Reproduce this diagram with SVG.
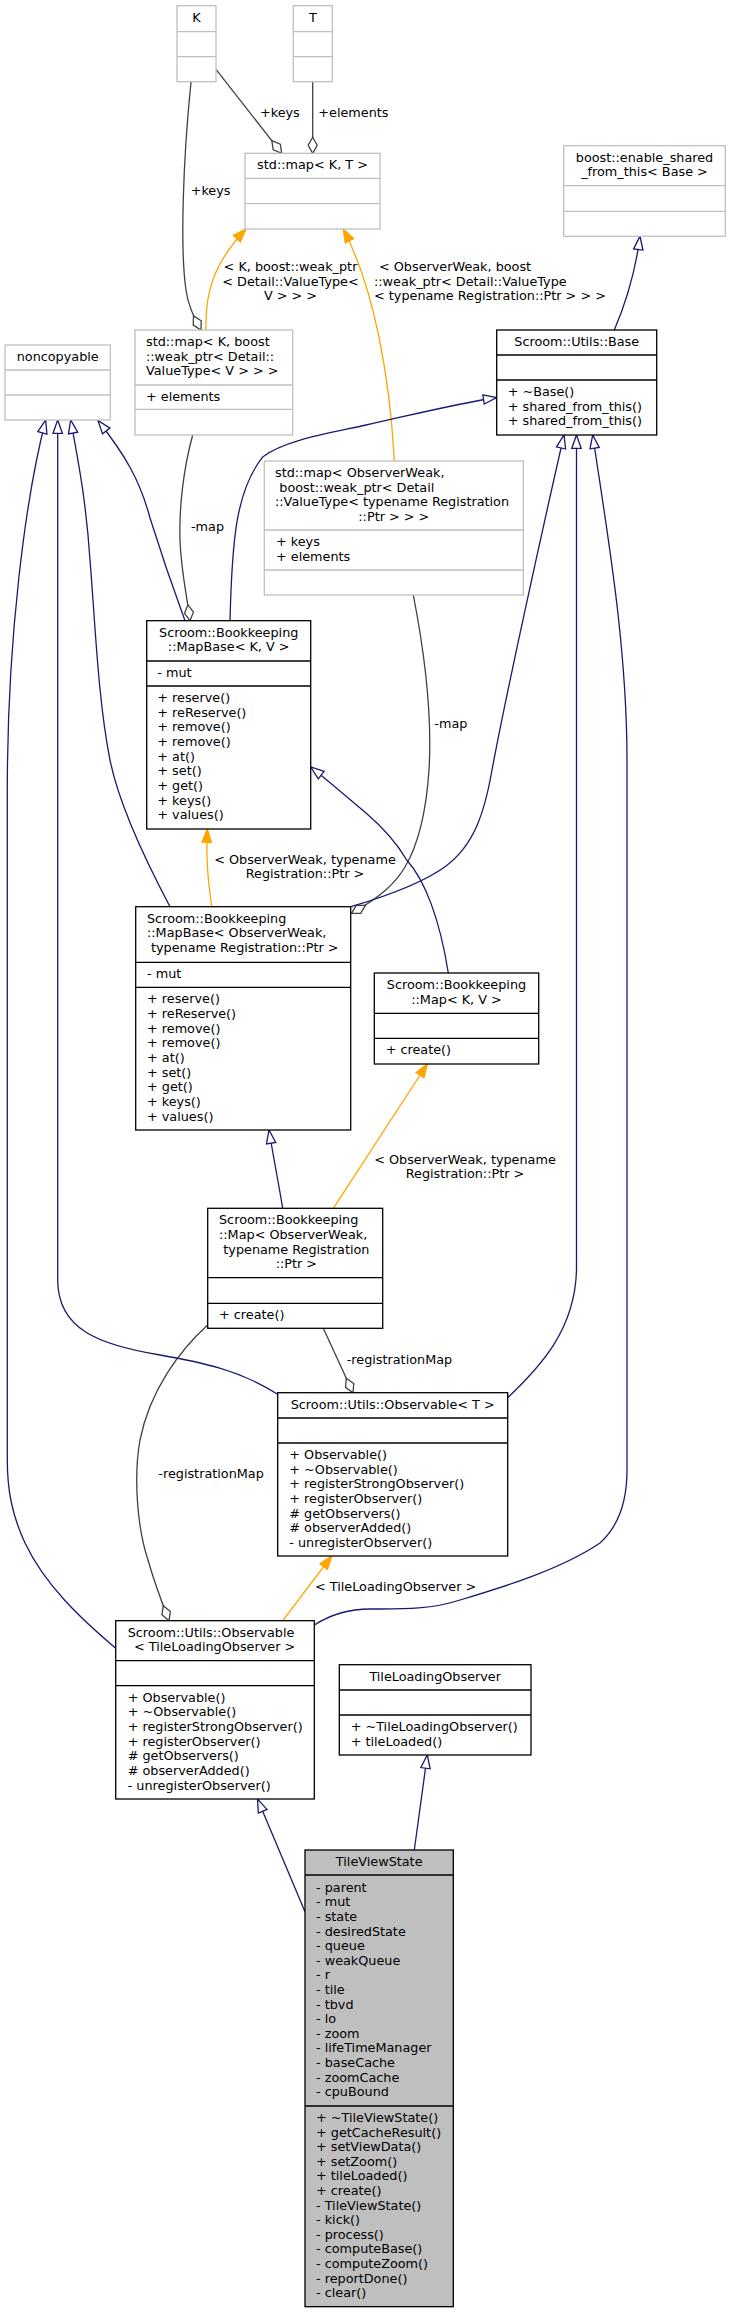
<svg xmlns="http://www.w3.org/2000/svg" width="731" height="2313" viewBox="0 0 731 2313">
<style>
text{font-family:"DejaVu Sans","Liberation Sans",sans-serif;font-size:12.8px;fill:#000}
.c{text-anchor:middle}
.gb{fill:#fff;stroke:#bfbfbf;stroke-width:1.3}
.gl{stroke:#bfbfbf;stroke-width:1.3}
.bb{fill:#fff;stroke:#000;stroke-width:1.3}
.bl{stroke:#000;stroke-width:1.3}
.sel{fill:#bfbfbf;stroke:#000;stroke-width:1.3}
.gen{fill:none;stroke:#191970;stroke-width:1.3;marker-end:url(#mgen)}
.tpl{fill:none;stroke:#ffa500;stroke-width:1.3;marker-end:url(#mtpl)}
.agg{fill:none;stroke:#404040;stroke-width:1.3;marker-end:url(#magg)}
</style>
<defs>
<marker id="mgen" markerUnits="userSpaceOnUse" markerWidth="16" markerHeight="12" refX="13.3" refY="5" orient="auto" style="overflow:visible"><path d="M0,0.3 L13.3,5 L0,9.7 Z" fill="#fff" stroke="#191970" stroke-width="1.3"/></marker>
<marker id="mtpl" markerUnits="userSpaceOnUse" markerWidth="16" markerHeight="12" refX="13.3" refY="5" orient="auto" style="overflow:visible"><path d="M0,0.3 L13.3,5 L0,9.7 Z" fill="#ffa500" stroke="#ffa500" stroke-width="1.3"/></marker>
<marker id="magg" markerUnits="userSpaceOnUse" markerWidth="18" markerHeight="12" refX="16" refY="5" orient="auto" style="overflow:visible"><path d="M0,5 L8,0.5 L16,5 L8,9.5 Z" fill="#fff" stroke="#404040" stroke-width="1.3"/></marker>
</defs>
<rect x="0" y="0" width="731" height="2313" fill="#fff"/>

<g id="connectors">
<!-- aggregation -->
<path class="agg" d="M216,69.3 L281.7,153.3"/>
<text x="260" y="117">+keys</text>
<path class="agg" d="M312.7,81.7 L312.7,153.3"/>
<text x="318.3" y="117">+elements</text>
<path class="agg" d="M191,82 C183,160 180,250 186,290 C188,305 193,315 201,330"/>
<text x="190.7" y="195">+keys</text>
<path class="agg" d="M192.7,435 C183,470 179,510 180,540 C181,570 186,590 190,620.7"/>
<text x="191" y="530.7">-map</text>
<path class="agg" d="M413.3,595 C426,660 432,720 429,770 C426,815 418,845 405,867 C395,884 380,897 351.5,913.3"/>
<text x="434.3" y="728">-map</text>
<path class="agg" d="M323.3,1328.3 L353,1392.7"/>
<text x="346.7" y="1364">-registrationMap</text>
<path class="agg" d="M207.7,1325 C180,1350 150,1390 140,1440 C133,1480 138,1530 148,1560 C155,1585 163,1605 169,1620.7"/>
<text x="158.3" y="1478">-registrationMap</text>
<!-- template -->
<path class="tpl" d="M206,330 C205,295 212,265 246,229"/>
<text class="c" x="290.5" y="271">&lt; K, boost::weak_ptr</text>
<text class="c" x="290.5" y="285.7">&lt; Detail::ValueType&lt;</text>
<text class="c" x="290.5" y="300.3">V &gt; &gt; &gt;</text>
<path class="tpl" d="M394.3,461 C390,380 375,290 343.3,229"/>
<text x="379" y="271">&lt; ObserverWeak, boost</text>
<text x="374" y="285.7">::weak_ptr&lt; Detail::ValueType</text>
<text x="374" y="300.3">&lt; typename Registration::Ptr &gt; &gt; &gt;</text>
<path class="tpl" d="M211.7,906.7 C208,880 206,860 207.3,829"/>
<text class="c" x="305" y="863.7">&lt; ObserverWeak, typename</text>
<text class="c" x="305" y="878.3">Registration::Ptr &gt;</text>
<path class="tpl" d="M333.3,1208.3 L427.3,1064"/>
<text class="c" x="465" y="1163.7">&lt; ObserverWeak, typename</text>
<text class="c" x="465" y="1178.3">Registration::Ptr &gt;</text>
<path class="tpl" d="M282.7,1620.7 L331.7,1556"/>
<text x="315" y="1591">&lt; TileLoadingObserver &gt;</text>
<!-- generalization -->
<path class="gen" d="M614.3,330 C625,305 635,275 640,236.3"/>
<path class="gen" d="M230,620.7 C232,540 236,490 263,456.7 C285,440 330,433 366,425 C420,413 460,403 496.7,397.5"/>
<path class="gen" d="M351,906.7 C380,898 420,885 445,866.7 C475,845 485,810 492,770 C505,700 540,540 564,435"/>
<path class="gen" d="M448.3,973 C440,920 425,880 406.7,860 C395,840 380,825 366,813 C350,800 330,782 310.7,767"/>
<path class="gen" d="M507.7,1397.7 C540,1367 575,1330 576.5,1270 L576.5,435"/>
<path class="gen" d="M314.3,1625 C330,1615 350,1609 370,1609 C400,1609 430,1610 460,1600 C500,1588 560,1570 600,1543 C620,1525 627,1500 627,1470 L627,760 C627,640 605,520 592.7,435"/>
<path class="gen" d="M282.7,1208.3 C278,1180 273,1155 269,1130"/>
<path class="gen" d="M305,1911.7 L257.5,1799"/>
<path class="gen" d="M414.3,1850 L427.3,1755"/>
<path class="gen" d="M115.7,1648.3 C80,1618 45,1585 25,1543 C12,1515 7.3,1490 7.3,1460 L7.3,790 C7.3,640 25,500 45.7,420"/>
<path class="gen" d="M277.7,1394.3 C240,1370 200,1362 160,1355 C100,1345 57.7,1330 57.7,1280 L57.7,420"/>
<path class="gen" d="M170,906.7 C140,850 118,800 110,760 C98,700 95,620 90,560 C86,500 78,460 70.7,420"/>
<path class="gen" d="M185,620.7 C170,580 160,550 150,518 C140,480 125,455 98,420.5"/>
</g>

<g id="node_K">
<rect class="gb" x="177" y="5.7" width="39" height="76"/>
<line class="gl" x1="177" y1="31.7" x2="216" y2="31.7"/>
<line class="gl" x1="177" y1="56.7" x2="216" y2="56.7"/>
<text class="c" x="196.5" y="21.7">K</text>
</g>

<g id="node_T">
<rect class="gb" x="293.3" y="5.7" width="39" height="76"/>
<line class="gl" x1="293.3" y1="31.7" x2="332.3" y2="31.7"/>
<line class="gl" x1="293.3" y1="56.7" x2="332.3" y2="56.7"/>
<text class="c" x="312.8" y="21.7">T</text>
</g>

<g id="node_stdmap_KT">
<rect class="gb" x="245" y="153.3" width="135" height="75.7"/>
<line class="gl" x1="245" y1="178.3" x2="380" y2="178.3"/>
<line class="gl" x1="245" y1="203.7" x2="380" y2="203.7"/>
<text class="c" x="312.5" y="169.3">std::map&lt; K, T &gt;</text>
</g>

<g id="node_stdmap_KV">
<rect class="gb" x="135" y="330" width="157.7" height="105"/>
<line class="gl" x1="135" y1="385" x2="292.7" y2="385"/>
<line class="gl" x1="135" y1="409.3" x2="292.7" y2="409.3"/>
<text x="146" y="346">std::map&lt; K, boost</text>
<text x="146" y="360.7">::weak_ptr&lt; Detail::</text>
<text x="146" y="375.3">ValueType&lt; V &gt; &gt; &gt;</text>
<text x="146" y="401">+ elements</text>
</g>

<g id="node_noncopyable">
<rect class="gb" x="5" y="345" width="105.3" height="75"/>
<line class="gl" x1="5" y1="370" x2="110.3" y2="370"/>
<line class="gl" x1="5" y1="395" x2="110.3" y2="395"/>
<text class="c" x="57.7" y="361">noncopyable</text>
</g>

<g id="node_enable_shared">
<rect class="gb" x="563.7" y="145.7" width="161.6" height="90.6"/>
<line class="gl" x1="563.7" y1="185.7" x2="725.3" y2="185.7"/>
<line class="gl" x1="563.7" y1="211.3" x2="725.3" y2="211.3"/>
<text class="c" x="644.5" y="161.7">boost::enable_shared</text>
<text class="c" x="644.5" y="176.3">_from_this&lt; Base &gt;</text>
</g>

<g id="node_Base">
<rect class="bb" x="496.7" y="330" width="160" height="105"/>
<line class="bl" x1="496.7" y1="355" x2="656.7" y2="355"/>
<line class="bl" x1="496.7" y1="380" x2="656.7" y2="380"/>
<text class="c" x="576.7" y="346">Scroom::Utils::Base</text>
<text x="507.7" y="396">+ ~Base()</text>
<text x="507.7" y="410.7">+ shared_from_this()</text>
<text x="507.7" y="425.3">+ shared_from_this()</text>
</g>

<g id="node_stdmap_OW">
<rect class="gb" x="264.3" y="461" width="259" height="134"/>
<line class="gl" x1="264.3" y1="530" x2="523.3" y2="530"/>
<line class="gl" x1="264.3" y1="570" x2="523.3" y2="570"/>
<text x="275" y="477">std::map&lt; ObserverWeak,</text>
<text x="279.3" y="491.7">boost::weak_ptr&lt; Detail</text>
<text x="275" y="506.3">::ValueType&lt; typename Registration</text>
<text x="358.3" y="521">::Ptr &gt; &gt; &gt;</text>
<text x="276" y="546">+ keys</text>
<text x="276" y="560.7">+ elements</text>
</g>

<g id="node_MapBase_KV">
<rect class="bb" x="146.7" y="620.7" width="164" height="208.3"/>
<line class="bl" x1="146.7" y1="661" x2="310.7" y2="661"/>
<line class="bl" x1="146.7" y1="686" x2="310.7" y2="686"/>
<text class="c" x="228.7" y="636.7">Scroom::Bookkeeping</text>
<text class="c" x="228.7" y="651.3">::MapBase&lt; K, V &gt;</text>
<text x="157.3" y="677">- mut</text>
<text x="157.3" y="702">+ reserve()</text>
<text x="157.3" y="716.6">+ reReserve()</text>
<text x="157.3" y="731.3">+ remove()</text>
<text x="157.3" y="745.9">+ remove()</text>
<text x="157.3" y="760.6">+ at()</text>
<text x="157.3" y="775.2">+ set()</text>
<text x="157.3" y="789.9">+ get()</text>
<text x="157.3" y="804.5">+ keys()</text>
<text x="157.3" y="819.2">+ values()</text>
</g>

<g id="node_MapBase_OW">
<rect class="bb" x="135.7" y="906.7" width="215" height="223.3"/>
<line class="bl" x1="135.7" y1="962.3" x2="350.7" y2="962.3"/>
<line class="bl" x1="135.7" y1="987.3" x2="350.7" y2="987.3"/>
<text x="147" y="922.7">Scroom::Bookkeeping</text>
<text x="147" y="937.3">::MapBase&lt; ObserverWeak,</text>
<text x="151" y="952">typename Registration::Ptr &gt;</text>
<text x="147" y="978.3">- mut</text>
<text x="147" y="1003.3">+ reserve()</text>
<text x="147" y="1018">+ reReserve()</text>
<text x="147" y="1032.6">+ remove()</text>
<text x="147" y="1047.3">+ remove()</text>
<text x="147" y="1061.9">+ at()</text>
<text x="147" y="1076.6">+ set()</text>
<text x="147" y="1091.2">+ get()</text>
<text x="147" y="1105.9">+ keys()</text>
<text x="147" y="1120.5">+ values()</text>
</g>

<g id="node_Map_KV">
<rect class="bb" x="374.3" y="973" width="164.4" height="91"/>
<line class="bl" x1="374.3" y1="1013.3" x2="538.7" y2="1013.3"/>
<line class="bl" x1="374.3" y1="1038.3" x2="538.7" y2="1038.3"/>
<text class="c" x="456.5" y="989">Scroom::Bookkeeping</text>
<text class="c" x="456.5" y="1003.6">::Map&lt; K, V &gt;</text>
<text x="385.7" y="1054.3">+ create()</text>
</g>

<g id="node_Map_OW">
<rect class="bb" x="207.7" y="1208.3" width="175" height="120"/>
<line class="bl" x1="207.7" y1="1277.7" x2="382.7" y2="1277.7"/>
<line class="bl" x1="207.7" y1="1303.3" x2="382.7" y2="1303.3"/>
<text x="219" y="1224.3">Scroom::Bookkeeping</text>
<text x="219" y="1239">::Map&lt; ObserverWeak,</text>
<text x="223.3" y="1253.6">typename Registration</text>
<text x="275.7" y="1268.3">::Ptr &gt;</text>
<text x="219" y="1319.3">+ create()</text>
</g>

<g id="node_Observable_T">
<rect class="bb" x="277.7" y="1392.7" width="230" height="163.3"/>
<line class="bl" x1="277.7" y1="1418" x2="507.7" y2="1418"/>
<line class="bl" x1="277.7" y1="1443" x2="507.7" y2="1443"/>
<text class="c" x="392.7" y="1408.7">Scroom::Utils::Observable&lt; T &gt;</text>
<text x="289.3" y="1459">+ Observable()</text>
<text x="289.3" y="1473.7">+ ~Observable()</text>
<text x="289.3" y="1488.3">+ registerStrongObserver()</text>
<text x="289.3" y="1503">+ registerObserver()</text>
<text x="289.3" y="1517.6"># getObservers()</text>
<text x="289.3" y="1532.3"># observerAdded()</text>
<text x="289.3" y="1546.9">- unregisterObserver()</text>
</g>

<g id="node_Observable_TLO">
<rect class="bb" x="115.7" y="1620.7" width="198.6" height="178.3"/>
<line class="bl" x1="115.7" y1="1660.7" x2="314.3" y2="1660.7"/>
<line class="bl" x1="115.7" y1="1685.7" x2="314.3" y2="1685.7"/>
<text x="127.7" y="1636.7">Scroom::Utils::Observable</text>
<text x="134" y="1651.3">&lt; TileLoadingObserver &gt;</text>
<text x="127.7" y="1701.7">+ Observable()</text>
<text x="127.7" y="1716.4">+ ~Observable()</text>
<text x="127.7" y="1731">+ registerStrongObserver()</text>
<text x="127.7" y="1745.7">+ registerObserver()</text>
<text x="127.7" y="1760.3"># getObservers()</text>
<text x="127.7" y="1775"># observerAdded()</text>
<text x="127.7" y="1789.6">- unregisterObserver()</text>
</g>

<g id="node_TileLoadingObserver">
<rect class="bb" x="339.3" y="1664.7" width="191.7" height="90.3"/>
<line class="bl" x1="339.3" y1="1690" x2="531" y2="1690"/>
<line class="bl" x1="339.3" y1="1715" x2="531" y2="1715"/>
<text class="c" x="435.2" y="1680.7">TileLoadingObserver</text>
<text x="350.7" y="1731">+ ~TileLoadingObserver()</text>
<text x="350.7" y="1745.6">+ tileLoaded()</text>
</g>

<g id="node_TileViewState">
<rect class="sel" x="305" y="1850" width="148.3" height="456.7"/>
<line class="bl" x1="305" y1="1875" x2="453.3" y2="1875"/>
<line class="bl" x1="305" y1="2106" x2="453.3" y2="2106"/>
<text class="c" x="379.2" y="1866">TileViewState</text>
<text x="316" y="1891.7">- parent</text>
<text x="316" y="1906.3">- mut</text>
<text x="316" y="1920.9">- state</text>
<text x="316" y="1935.5">- desiredState</text>
<text x="316" y="1950.1">- queue</text>
<text x="316" y="1964.7">- weakQueue</text>
<text x="316" y="1979.3">- r</text>
<text x="316" y="1993.9">- tile</text>
<text x="316" y="2008.5">- tbvd</text>
<text x="316" y="2023.1">- lo</text>
<text x="316" y="2037.7">- zoom</text>
<text x="316" y="2052.3">- lifeTimeManager</text>
<text x="316" y="2066.9">- baseCache</text>
<text x="316" y="2081.5">- zoomCache</text>
<text x="316" y="2096.1">- cpuBound</text>
<text x="316" y="2122">+ ~TileViewState()</text>
<text x="316" y="2136.6">+ getCacheResult()</text>
<text x="316" y="2151.2">+ setViewData()</text>
<text x="316" y="2165.8">+ setZoom()</text>
<text x="316" y="2180.4">+ tileLoaded()</text>
<text x="316" y="2195">+ create()</text>
<text x="316" y="2209.6">- TileViewState()</text>
<text x="316" y="2224.2">- kick()</text>
<text x="316" y="2238.8">- process()</text>
<text x="316" y="2253.4">- computeBase()</text>
<text x="316" y="2268">- computeZoom()</text>
<text x="316" y="2282.6">- reportDone()</text>
<text x="316" y="2297.2">- clear()</text>
</g>
</svg>
